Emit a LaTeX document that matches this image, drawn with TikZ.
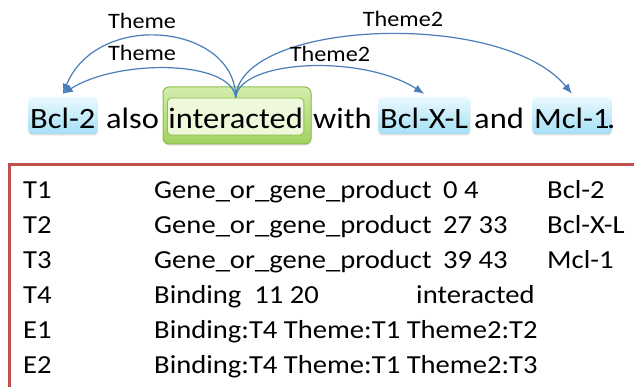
\documentclass[tikz,border=0pt]{standalone}
\usepackage{fontspec}
\setmainfont[FakeStretch=1.1]{Carlito}
\usepackage{tikz}
\usetikzlibrary{arrows.meta,shadows}
\definecolor{argblue}{HTML}{4A7EBB}
\definecolor{genetop}{HTML}{EAF9FE}
\definecolor{genebot}{HTML}{A4E0F5}
\definecolor{trigline}{HTML}{8DBF4C}
\definecolor{trigtop}{HTML}{D3EDAC}
\definecolor{trigbot}{HTML}{A3D262}
\definecolor{triginner}{HTML}{EEF8DA}
\definecolor{tabred}{HTML}{C0504D}
\tikzset{
  word/.style={font=\fontsize{29.5}{34}\selectfont,inner sep=0pt,anchor=base west},
  genebox/.style={word,rounded corners=4pt,top color=genetop,bottom color=genebot,
    text height=30pt,text depth=3pt,inner xsep=2pt,inner ysep=2pt,
    drop shadow={shadow xshift=0.4pt,shadow yshift=-1.5pt,opacity=.25}},
  trigbox/.style={word,rounded corners=4pt,draw=trigline,line width=0.8pt,fill=triginner,
    text height=29pt,text depth=4pt,inner xsep=1pt,inner ysep=2pt},
  trigframe/.style={draw=trigline,line width=1pt,rounded corners=6pt,top color=trigtop,bottom color=trigbot,
    minimum width=148pt,minimum height=57pt,inner sep=0pt,
    drop shadow={shadow xshift=0.5pt,shadow yshift=-1.5pt,opacity=.3}},
  argedge/.style={-{Latex[length=10pt,width=8pt]},draw=argblue,line width=1.2pt},
  arglabel/.style={font=\fontsize{22}{26}\selectfont,inner sep=0pt,anchor=base},
  tabframe/.style={draw=tabred,line width=3pt},
  tabcell/.style={font=\fontsize{26}{30}\selectfont,inner sep=0pt,anchor=base west}
}
\begin{document}
\begin{tikzpicture}[x=1pt,y=-1pt]
\useasboundingbox[fill=white] (0,0) rectangle (634,387);
% annotated sentence
\node[trigframe] (t4frame) at (237,115.5) {};
\node[genebox] (t1) at (28,129) {Bcl-2};
\node[word] (also) at (106,129) {also};
\node[trigbox] (t4) at (167,129) {interacted};
\node[word] (with) at (313,129) {with};
\node[genebox] (t2) at (378,129) {Bcl-X-L};
\node[word] (and) at (474,129) {and};
\node[genebox] (t3) at (532,129) {Mcl-1};
\node[word] (stop) at (607,129) {.};
% argument arcs
\draw[argedge] (t4.north) .. controls +(0,-73) and +(35,-85) .. ([yshift=3pt]t1.north);
\draw[argedge] (t4.north) .. controls +(-4,-38) and +(55,-35) .. ([yshift=3pt]t1.north);
\draw[argedge] (t4.north) .. controls +(4,-38) and +(-62,-40) .. ([yshift=3pt]t2.north);
\draw[argedge] (t4.north) .. controls +(4,-78) and +(-69,-85) .. ([yshift=3pt]t3.north);
\node[arglabel] (lthemeup) at (142,29) {Theme};
\node[arglabel] (lthemelow) at (142,61) {Theme};
\node[arglabel] (lthemetwolow) at (330,62) {Theme2};
\node[arglabel] (lthemetwoup) at (403,27) {Theme2};
% standoff annotation
\draw[tabframe] (645,165) -| (9,395);
\node[tabcell] (id1) at (23,199) {T1};
\node[tabcell] (ty1) at (154,199) {Gene\_or\_gene\_product};
\node[tabcell] (sp1) at (443,199) {0 4};
\node[tabcell] (tx1) at (547,199) {Bcl-2};
\node[tabcell] (id2) at (23,233.8) {T2};
\node[tabcell] (ty2) at (154,233.8) {Gene\_or\_gene\_product};
\node[tabcell] (sp2) at (443,233.8) {27 33};
\node[tabcell] (tx2) at (547,233.8) {Bcl-X-L};
\node[tabcell] (id3) at (23,268.6) {T3};
\node[tabcell] (ty3) at (154,268.6) {Gene\_or\_gene\_product};
\node[tabcell] (sp3) at (443,268.6) {39 43};
\node[tabcell] (tx3) at (547,268.6) {Mcl-1};
\node[tabcell] (id4) at (23,303.4) {T4};
\node[tabcell] (ty4) at (154,303.4) {Binding\ \ 11 20};
\node[tabcell] (tx4) at (416,303.4) {interacted};
\node[tabcell] (id5) at (23,338.2) {E1};
\node[tabcell] (ev5) at (154,338.2) {Binding:T4 Theme:T1 Theme2:T2};
\node[tabcell] (id6) at (23,373) {E2};
\node[tabcell] (ev6) at (154,373) {Binding:T4 Theme:T1 Theme2:T3};
\end{tikzpicture}
\end{document}
